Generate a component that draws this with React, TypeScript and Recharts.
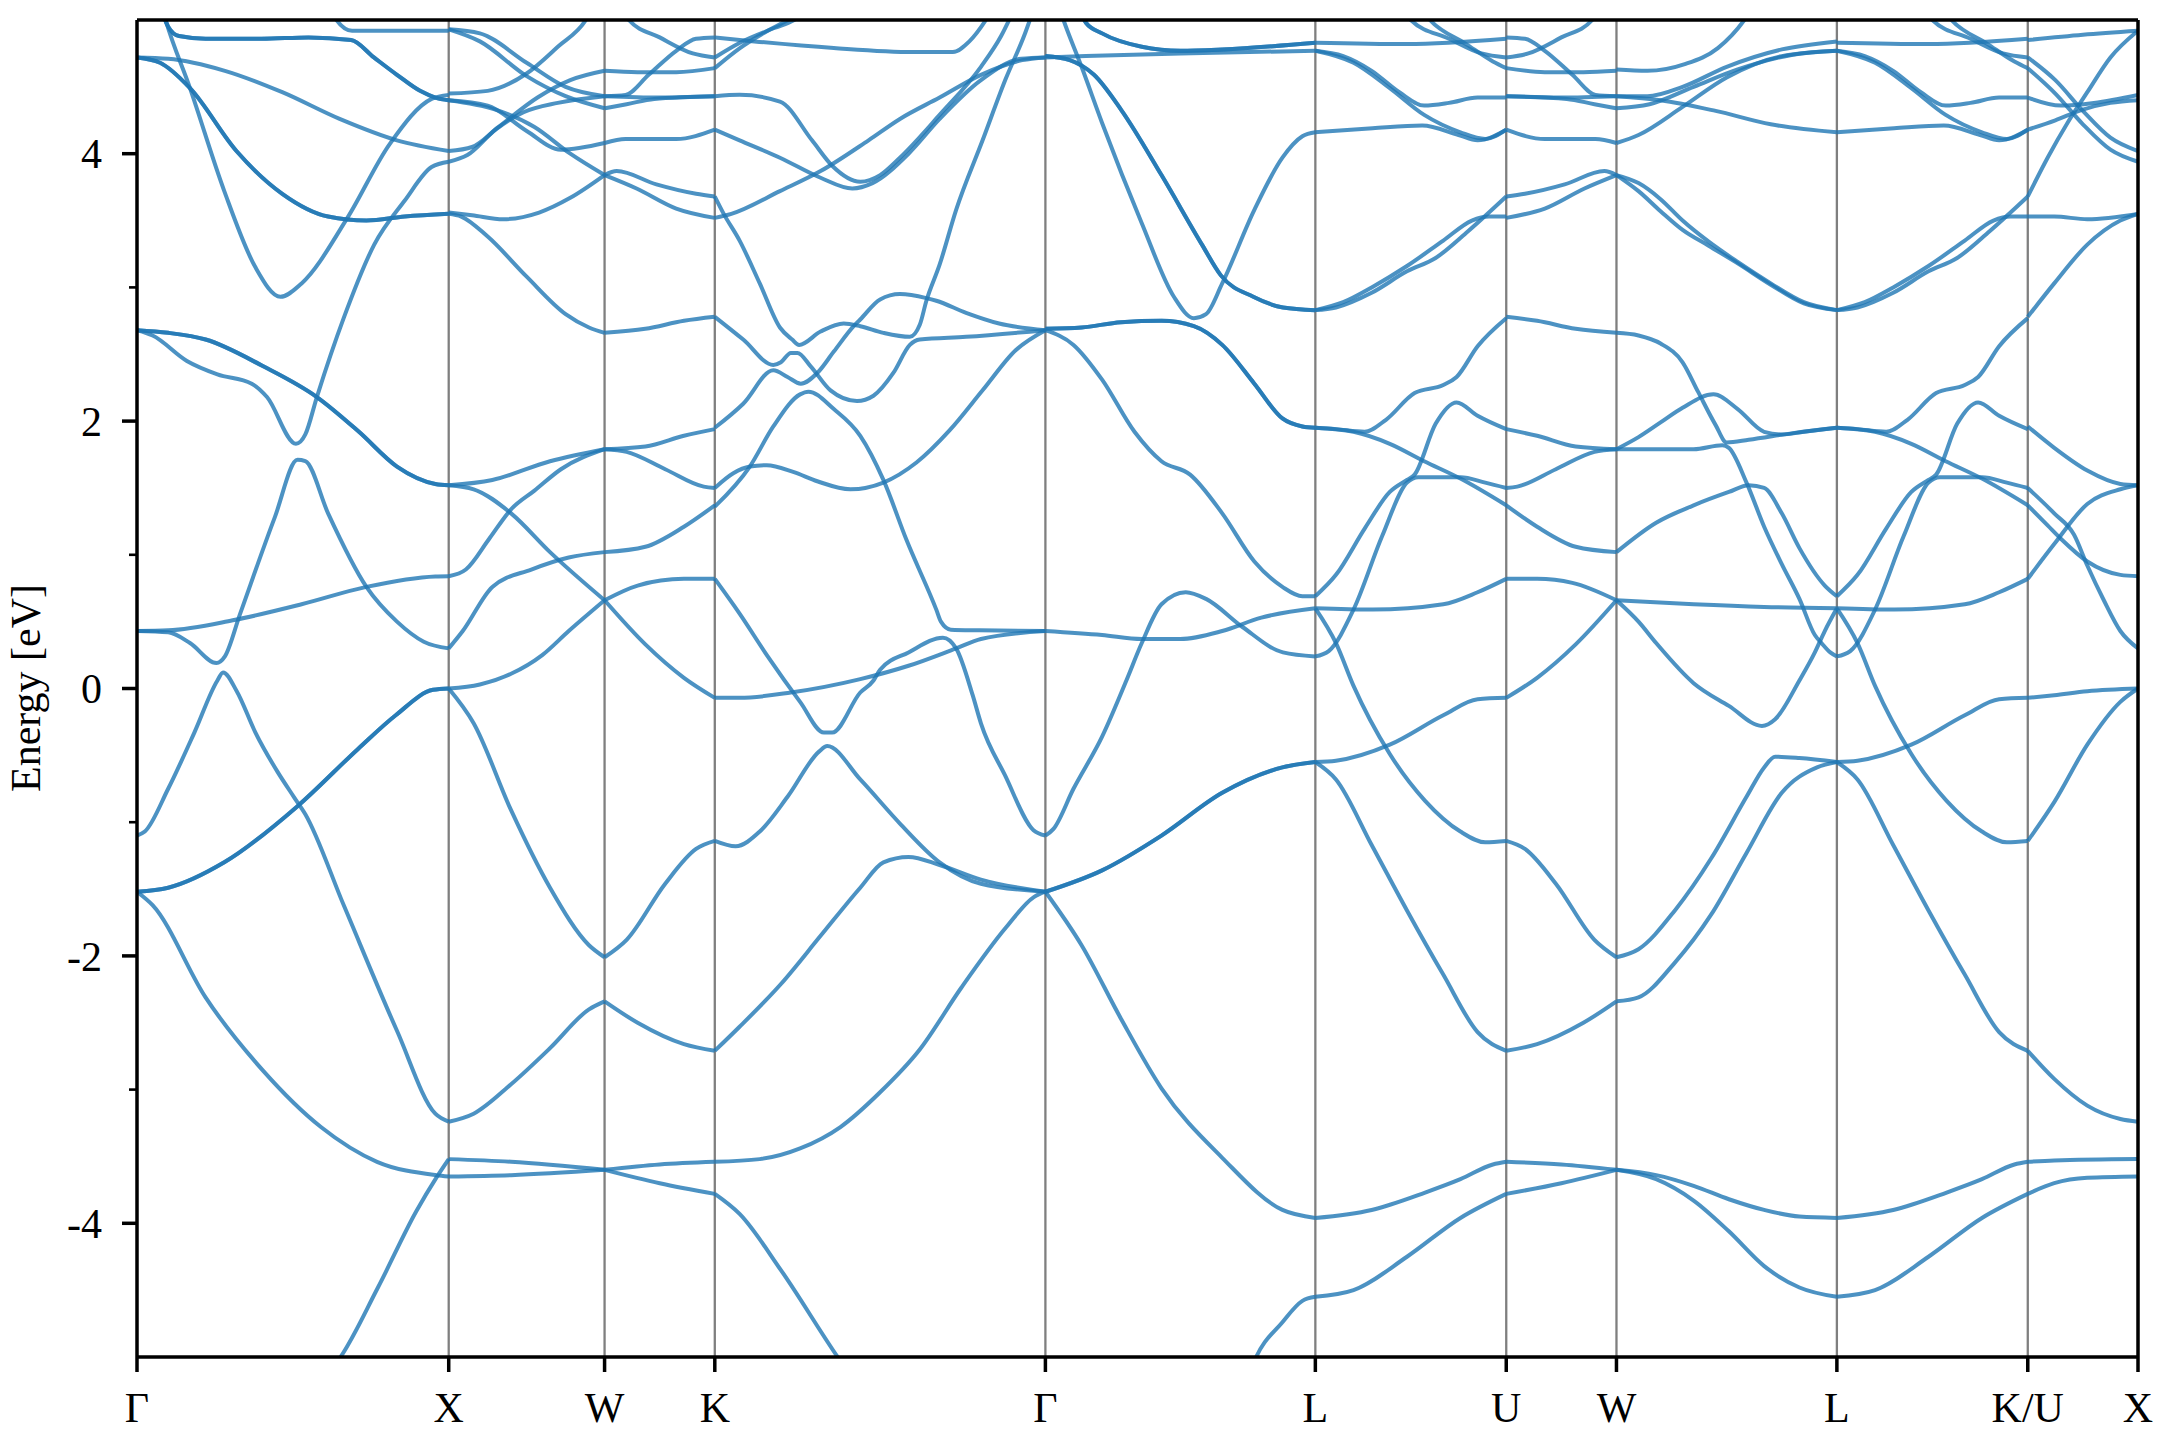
import React from "react"
import { LineChart, Line, XAxis, YAxis, ReferenceLine } from "recharts"

type Pt = [number, number]

// high-symmetry points along the k-path (units of 2π/a)
const kLabels = ["Γ", "X", "W", "K", "Γ", "L", "U", "W", "L", "K/U", "X"]
const kTicks = [0, 1, 1.5, 1.8536, 2.9142, 3.7802, 4.3926, 4.7462, 5.4533, 6.0657, 6.4193]
const energyTicks = [-4, -3, -2, -1, 0, 1, 2, 3, 4]

// each band piece: [fraction along the segment, energy in eV]
// pieces listed twice are degenerate (two bands on top of each other)

// Γ -> X
const gxLowPair: Pt[] = [[0, -1.52], [0.1, -1.49], [0.28, -1.3], [0.515, -0.88], [0.71, -0.45], [0.83, -0.2], [0.95, -0.01], [1, 0]]
const gxMidPair: Pt[] = [[0, 2.68], [0.1, 2.66], [0.22, 2.61], [0.405, 2.41], [0.577, 2.18], [0.712, 1.92], [0.834, 1.66], [0.957, 1.53], [1, 1.52]]
const gxTopPair: Pt[] = [[0, 4.72], [0.074, 4.68], [0.17, 4.49], [0.319, 4.02], [0.466, 3.7], [0.613, 3.53], [0.736, 3.5], [0.859, 3.53], [1, 3.55]]
const gxFlatPair: Pt[] = [[0.08, 5.06], [0.1, 4.95], [0.135, 4.88], [0.22, 4.86], [0.4, 4.86], [0.55, 4.87], [0.687, 4.85], [0.76, 4.72], [0.834, 4.59], [0.908, 4.47], [0.957, 4.42], [1, 4.4]]
const gammaX: Pt[][] = [
  gxLowPair, gxLowPair,
  [[0, -1.52], [0.05, -1.62], [0.22, -2.31], [0.405, -2.86], [0.59, -3.28], [0.77, -3.54], [0.96, -3.64], [1, -3.65]],
  [[0.62, -5.1], [0.644, -5.03], [0.773, -4.48], [0.896, -3.91], [0.96, -3.66], [1, -3.52]],
  [[0, -1.1], [0.025, -1.07], [0.1, -0.75], [0.184, -0.33], [0.258, 0.06], [0.276, 0.12], [0.32, -0.02], [0.38, -0.33], [0.45, -0.62], [0.503, -0.81], [0.54, -0.94], [0.663, -1.62], [0.834, -2.56], [0.957, -3.18], [1, -3.24]],
  [[0, 0.43], [0.1, 0.42], [0.17, 0.34], [0.255, 0.19], [0.282, 0.24], [0.331, 0.56], [0.442, 1.28], [0.515, 1.71], [0.54, 1.7], [0.613, 1.31], [0.736, 0.76], [0.834, 0.5], [0.92, 0.35], [1, 0.3]],
  [[0, 0.43], [0.1, 0.435], [0.307, 0.51], [0.528, 0.63], [0.736, 0.76], [0.957, 0.838], [1, 0.84]],
  gxMidPair, gxMidPair,
  [[0, 2.68], [0.05, 2.64], [0.16, 2.45], [0.258, 2.35], [0.368, 2.28], [0.417, 2.18], [0.51, 1.83], [0.54, 1.9], [0.577, 2.18], [0.663, 2.77], [0.761, 3.32], [0.859, 3.65], [0.945, 3.9], [1, 3.94]],
  [[0.08, 5.1], [0.092, 5.0], [0.17, 4.49], [0.28, 3.72], [0.38, 3.15], [0.46, 2.93], [0.528, 3.03], [0.675, 3.52], [0.81, 4.07], [0.945, 4.41], [1, 4.44]],
  [[0, 4.72], [0.1, 4.71], [0.282, 4.62], [0.466, 4.46], [0.65, 4.26], [0.834, 4.1], [1, 4.02]],
  gxTopPair, gxTopPair,
  gxFlatPair, gxFlatPair,
  [[0.63, 5.06], [0.64, 5.0], [0.69, 4.92], [0.8, 4.92], [1, 4.92]],
]

// X -> W
const xW: Pt[][] = [
  [[0, 4.93], [0.2, 4.9], [0.5, 4.68], [0.75, 4.5], [1, 4.43]],
  [[0, 4.93], [0.2, 4.84], [0.5, 4.58], [0.75, 4.43], [1, 4.34]],
  [[0, 4.45], [0.25, 4.47], [0.5, 4.6], [0.7, 4.8], [0.88, 5.0], [0.92, 5.08]],
  [[0, 4.4], [0.25, 4.36], [0.5, 4.17], [0.72, 4.03], [1, 4.08]],
  [[0, 4.4], [0.3, 4.33], [0.55, 4.2], [0.78, 4.0], [1, 3.84]],
  [[0, 4.02], [0.15, 4.05], [0.32, 4.2], [0.57, 4.42], [0.78, 4.55], [1, 4.62]],
  [[0, 3.94], [0.12, 3.99], [0.3, 4.18], [0.48, 4.31], [0.7, 4.38], [1, 4.43]],
  [[0, 3.56], [0.15, 3.54], [0.35, 3.51], [0.58, 3.56], [0.78, 3.67], [1, 3.84]],
  [[0, 3.55], [0.08, 3.53], [0.25, 3.38], [0.5, 3.08], [0.75, 2.8], [0.9, 2.7], [1, 2.66]],
  [[0, 1.52], [0.16, 1.49], [0.4, 1.31], [0.65, 1.02], [1, 0.66]],
  [[0, 1.52], [0.28, 1.56], [0.65, 1.7], [1, 1.79]],
  [[0, 0.84], [0.11, 0.89], [0.26, 1.12], [0.4, 1.34], [0.55, 1.48], [0.72, 1.64], [1, 1.79]],
  [[0, 0.3], [0.09, 0.43], [0.28, 0.76], [0.53, 0.89], [0.77, 0.98], [1, 1.02]],
  [[0, 0], [0.2, 0.03], [0.4, 0.11], [0.6, 0.25], [0.77, 0.43], [1, 0.66]],
  [[0, 0], [0.16, -0.26], [0.4, -0.91], [0.65, -1.49], [0.9, -1.92], [1, -2.01]],
  [[0, -3.24], [0.16, -3.18], [0.4, -2.96], [0.65, -2.69], [0.9, -2.4], [1, -2.34]],
  [[0, -3.52], [0.4, -3.54], [1, -3.6]],
  [[0, -3.65], [0.4, -3.64], [1, -3.6]],
]

// W -> K
const wK: Pt[][] = [
  [[0.15, 5.08], [0.22, 5.0], [0.5, 4.87], [0.8, 4.75], [1, 4.72]],
  [[0, 4.62], [0.3, 4.61], [0.65, 4.61], [1, 4.64]],
  [[0, 4.43], [0.19, 4.44], [0.4, 4.59], [0.65, 4.77], [0.83, 4.86], [1, 4.87]],
  [[0, 4.43], [0.5, 4.42], [1, 4.43]],
  [[0, 4.34], [0.2, 4.37], [0.45, 4.41], [1, 4.43]],
  [[0, 4.08], [0.19, 4.11], [0.65, 4.11], [1, 4.18]],
  [[0, 3.84], [0.11, 3.87], [0.47, 3.77], [0.83, 3.7], [1, 3.68]],
  [[0, 3.84], [0.29, 3.74], [0.65, 3.59], [1, 3.52]],
  [[0, 2.66], [0.37, 2.69], [0.72, 2.75], [1, 2.78]],
  [[0, 1.79], [0.37, 1.81], [0.72, 1.89], [1, 1.94]],
  [[0, 1.79], [0.2, 1.77], [0.55, 1.64], [0.9, 1.51], [1, 1.5]],
  [[0, 1.02], [0.37, 1.06], [0.72, 1.21], [1, 1.37]],
  [[0, 0.66], [0.3, 0.77], [0.72, 0.82], [1, 0.82]],
  [[0, 0.66], [0.37, 0.33], [0.72, 0.08], [1, -0.07]],
  [[0, -2.01], [0.2, -1.88], [0.55, -1.46], [0.83, -1.2], [1, -1.14]],
  [[0, -2.34], [0.3, -2.5], [0.72, -2.66], [1, -2.71]],
  [[0, -3.6], [0.5, -3.56], [1, -3.54]],
  [[0, -3.6], [0.5, -3.7], [1, -3.78]],
]

// K -> Γ
const kGamma: Pt[][] = [
  [[0, 4.87], [0.12, 4.84], [0.36, 4.79], [0.6, 4.76], [0.72, 4.76], [0.77, 4.84], [0.82, 5.0], [0.84, 5.08]],
  [[0, 4.72], [0.076, 4.83], [0.18, 4.94], [0.24, 5.0], [0.27, 5.05]],
  [[0, 4.64], [0.076, 4.79], [0.16, 4.92], [0.22, 5.0], [0.25, 5.05]],
  [[0, 4.43], [0.075, 4.44], [0.197, 4.39], [0.294, 4.1], [0.355, 3.91], [0.44, 3.79], [0.5, 3.84], [0.56, 3.97], [0.68, 4.29], [0.805, 4.65], [0.866, 4.88], [0.9, 5.05]],
  [[0, 4.18], [0.075, 4.1], [0.197, 3.97], [0.32, 3.82], [0.416, 3.74], [0.477, 3.78], [0.586, 4.0], [0.68, 4.26], [0.805, 4.55], [0.927, 4.71], [1, 4.72]],
  [[0, 3.52], [0.05, 3.55], [0.197, 3.72], [0.32, 3.87], [0.465, 4.1], [0.56, 4.26], [0.68, 4.42], [0.805, 4.59], [0.93, 4.7], [1, 4.72]],
  [[0, 3.68], [0.027, 3.55], [0.075, 3.35], [0.136, 3.03], [0.197, 2.7], [0.234, 2.61], [0.255, 2.57], [0.32, 2.67], [0.39, 2.73], [0.44, 2.71], [0.51, 2.66], [0.59, 2.63], [0.62, 2.72], [0.64, 2.9], [0.68, 3.17], [0.73, 3.58], [0.81, 4.1], [0.88, 4.56], [0.94, 4.91], [0.96, 5.05]],
  [[0, 2.78], [0.086, 2.61], [0.177, 2.42], [0.2, 2.44], [0.23, 2.51], [0.25, 2.51], [0.29, 2.41], [0.35, 2.23], [0.43, 2.15], [0.48, 2.19], [0.54, 2.36], [0.59, 2.57], [0.62, 2.61], [0.76, 2.63], [1, 2.68]],
  [[0, 1.95], [0.086, 2.13], [0.177, 2.38], [0.22, 2.33], [0.26, 2.28], [0.31, 2.36], [0.36, 2.52], [0.42, 2.71], [0.44, 2.76], [0.5, 2.91], [0.56, 2.95], [0.64, 2.92], [0.67, 2.9], [0.76, 2.81], [0.86, 2.73], [1, 2.68]],
  [[0, 1.5], [0.056, 1.61], [0.106, 1.66], [0.157, 1.67], [0.237, 1.62], [0.31, 1.55], [0.41, 1.49], [0.51, 1.54], [0.61, 1.69], [0.71, 1.93], [0.81, 2.23], [0.91, 2.53], [1, 2.68]],
  [[0, 1.36], [0.106, 1.66], [0.177, 1.96], [0.258, 2.2], [0.283, 2.22], [0.36, 2.09], [0.44, 1.89], [0.51, 1.56], [0.58, 1.11], [0.67, 0.59], [0.684, 0.5], [0.714, 0.44], [0.8, 0.435], [1, 0.43]],
  [[0, 0.82], [0.075, 0.56], [0.16, 0.24], [0.258, -0.1], [0.33, -0.33], [0.355, -0.33], [0.44, -0.03], [0.48, 0.06], [0.5, 0.14], [0.586, 0.27], [0.69, 0.38], [0.73, 0.3], [0.78, -0.05], [0.805, -0.26], [0.878, -0.65], [0.964, -1.06], [1, -1.1]],
  [[0, -0.07], [0.075, -0.07], [0.23, -0.03], [0.44, 0.07], [0.586, 0.17], [0.73, 0.3], [0.805, 0.37], [1, 0.43]],
  [[0, -1.14], [0.063, -1.18], [0.136, -1.07], [0.22, -0.81], [0.316, -0.47], [0.34, -0.43], [0.44, -0.68], [0.56, -1.01], [0.68, -1.3], [0.805, -1.46], [1, -1.52]],
  [[0, -2.71], [0.075, -2.53], [0.2, -2.21], [0.32, -1.85], [0.44, -1.49], [0.51, -1.3], [0.586, -1.26], [0.68, -1.32], [0.805, -1.43], [1, -1.52]],
  [[0, -3.54], [0.136, -3.52], [0.258, -3.44], [0.38, -3.28], [0.5, -3.02], [0.62, -2.7], [0.745, -2.24], [0.88, -1.79], [0.965, -1.56], [1, -1.52]],
  [[0, -3.78], [0.075, -3.93], [0.2, -4.35], [0.38, -5.03], [0.4, -5.1]],
]

// Γ -> L
const glDomePair: Pt[] = [[0, 4.73], [0.09, 4.7], [0.18, 4.59], [0.28, 4.33], [0.43, 3.84], [0.58, 3.32], [0.65, 3.09], [0.77, 2.93], [0.88, 2.85], [1, 2.83]]
const glTopPair: Pt[] = [[0.13, 5.06], [0.15, 4.98], [0.21, 4.9], [0.357, 4.8], [0.5, 4.77], [0.655, 4.78], [1, 4.83]]
const glMidPair: Pt[] = [[0, 2.69], [0.134, 2.7], [0.28, 2.74], [0.43, 2.75], [0.55, 2.71], [0.655, 2.57], [0.774, 2.28], [0.878, 2.02], [0.952, 1.96], [1, 1.95]]
const glLowPair: Pt[] = [[0, -1.52], [0.21, -1.36], [0.43, -1.1], [0.655, -0.78], [0.878, -0.59], [1, -0.55]]
const gammaL: Pt[][] = [
  glDomePair, glDomePair,
  [[0, 4.72], [0.15, 4.73], [0.5, 4.75], [1, 4.77]],
  glTopPair, glTopPair,
  [[0.05, 5.1], [0.067, 5.0], [0.134, 4.65], [0.21, 4.23], [0.357, 3.48], [0.476, 2.93], [0.55, 2.77], [0.595, 2.8], [0.655, 3.03], [0.774, 3.58], [0.878, 3.97], [0.952, 4.13], [1, 4.16]],
  glMidPair, glMidPair,
  [[0, 2.68], [0.104, 2.57], [0.21, 2.31], [0.33, 1.92], [0.43, 1.7], [0.536, 1.6], [0.655, 1.31], [0.774, 0.95], [0.878, 0.76], [0.952, 0.69], [1, 0.69]],
  [[0, 0.43], [0.21, 0.4], [0.357, 0.37], [0.5, 0.37], [0.655, 0.43], [0.8, 0.53], [1, 0.6]],
  [[0, -1.1], [0.03, -1.05], [0.104, -0.75], [0.21, -0.36], [0.3, 0.06], [0.357, 0.34], [0.43, 0.63], [0.52, 0.72], [0.595, 0.67], [0.73, 0.46], [0.88, 0.27], [1, 0.24]],
  glLowPair, glLowPair,
  [[0, -1.52], [0.134, -1.92], [0.28, -2.47], [0.43, -2.99], [0.655, -3.51], [0.878, -3.9], [1, -3.96]],
  [[0.76, -5.1], [0.774, -5.03], [0.878, -4.74], [0.952, -4.58], [1, -4.55]],
]

// L -> U (L -> K/U looks the same)
const lU: Pt[][] = [
  [[0, 4.83], [0.48, 4.82], [1, 4.86]],
  [[0.47, 5.05], [0.5, 5.0], [0.7, 4.86], [0.87, 4.75], [1, 4.72]],
  [[0.57, 5.05], [0.6, 5.0], [0.79, 4.82], [0.93, 4.69], [1, 4.64]],
  [[0, 4.77], [0.146, 4.73], [0.295, 4.62], [0.44, 4.46], [0.57, 4.36], [0.7, 4.38], [0.85, 4.42], [1, 4.42]],
  [[0, 4.77], [0.2, 4.68], [0.39, 4.49], [0.57, 4.29], [0.76, 4.16], [0.89, 4.11], [1, 4.18]],
  [[0, 4.16], [0.3, 4.19], [0.56, 4.21], [0.75, 4.14], [0.85, 4.1], [1, 4.18]],
  [[0, 2.83], [0.108, 2.85], [0.295, 2.96], [0.48, 3.12], [0.63, 3.22], [0.8, 3.42], [1, 3.68]],
  [[0, 2.83], [0.146, 2.89], [0.295, 3.0], [0.48, 3.16], [0.67, 3.35], [0.82, 3.5], [0.91, 3.53], [1, 3.53]],
  [[0, 1.95], [0.108, 1.94], [0.258, 1.92], [0.37, 2.01], [0.52, 2.21], [0.67, 2.27], [0.74, 2.33], [0.85, 2.56], [1, 2.77]],
  [[0, 1.95], [0.2, 1.92], [0.39, 1.83], [0.57, 1.7], [0.76, 1.57], [1, 1.37]],
  [[0, 0.69], [0.108, 0.85], [0.26, 1.2], [0.39, 1.47], [0.48, 1.56], [0.52, 1.6], [0.63, 1.98], [0.74, 2.14], [0.85, 2.04], [1, 1.94]],
  [[0, 0.24], [0.07, 0.28], [0.2, 0.59], [0.35, 1.14], [0.48, 1.54], [0.54, 1.58], [0.76, 1.58], [0.89, 1.54], [1, 1.5]],
  [[0, 0.6], [0.3, 0.59], [0.67, 0.63], [0.85, 0.72], [1, 0.82]],
  [[0, 0.6], [0.108, 0.34], [0.2, 0.02], [0.39, -0.49], [0.575, -0.84], [0.76, -1.07], [0.89, -1.15], [1, -1.14]],
  [[0, -0.55], [0.108, -0.54], [0.39, -0.42], [0.67, -0.2], [0.85, -0.08], [1, -0.07]],
  [[0, -0.55], [0.108, -0.68], [0.295, -1.17], [0.48, -1.66], [0.67, -2.14], [0.85, -2.57], [1, -2.71]],
  [[0, -3.96], [0.295, -3.9], [0.575, -3.77], [0.76, -3.67], [0.93, -3.56], [1, -3.54]],
  [[0, -4.55], [0.2, -4.5], [0.48, -4.25], [0.76, -3.96], [1, -3.78]],
]

// U -> W
const uW: Pt[][] = [
  [[0, 4.72], [0.2, 4.75], [0.5, 4.87], [0.78, 5.0], [0.85, 5.08]],
  [[0, 4.64], [0.35, 4.61], [0.7, 4.61], [1, 4.62]],
  [[0, 4.87], [0.17, 4.86], [0.35, 4.77], [0.6, 4.59], [0.81, 4.44], [1, 4.43]],
  [[0, 4.43], [0.5, 4.42], [1, 4.43]],
  [[0, 4.43], [0.55, 4.41], [0.8, 4.37], [1, 4.34]],
  [[0, 4.18], [0.35, 4.11], [0.81, 4.11], [1, 4.08]],
  [[0, 3.68], [0.17, 3.7], [0.53, 3.77], [0.89, 3.87], [1, 3.84]],
  [[0, 3.52], [0.35, 3.59], [0.71, 3.74], [1, 3.84]],
  [[0, 2.78], [0.28, 2.75], [0.63, 2.69], [1, 2.66]],
  [[0, 1.94], [0.28, 1.89], [0.63, 1.81], [1, 1.79]],
  [[0, 1.5], [0.1, 1.51], [0.45, 1.64], [0.8, 1.77], [1, 1.79]],
  [[0, 1.37], [0.28, 1.21], [0.63, 1.06], [1, 1.02]],
  [[0, 0.82], [0.28, 0.82], [0.6, 0.79], [1, 0.66]],
  [[0, -0.07], [0.28, 0.08], [0.63, 0.33], [1, 0.66]],
  [[0, -1.14], [0.17, -1.2], [0.45, -1.46], [0.8, -1.88], [1, -2.01]],
  [[0, -2.71], [0.28, -2.66], [0.7, -2.5], [1, -2.34]],
  [[0, -3.54], [0.5, -3.56], [1, -3.6]],
  [[0, -3.78], [0.5, -3.7], [1, -3.6]],
]

// W -> L
const wL: Pt[][] = [
  [[0, 4.63], [0.14, 4.62], [0.31, 4.67], [0.46, 4.79], [0.58, 5.0], [0.62, 5.1]],
  [[0, 4.43], [0.14, 4.43], [0.3, 4.5], [0.5, 4.65], [0.75, 4.78], [1, 4.84]],
  [[0, 4.34], [0.15, 4.37], [0.35, 4.5], [0.55, 4.63], [0.8, 4.74], [1, 4.77]],
  [[0, 4.08], [0.1, 4.14], [0.3, 4.35], [0.5, 4.57], [0.75, 4.73], [1, 4.77]],
  [[0, 4.43], [0.2, 4.4], [0.45, 4.32], [0.7, 4.22], [1, 4.16]],
  [[0, 3.84], [0.1, 3.72], [0.2, 3.57], [0.3, 3.43], [0.42, 3.31], [0.55, 3.18], [0.7, 3.02], [0.85, 2.88], [1, 2.83]],
  [[0, 3.84], [0.1, 3.78], [0.2, 3.66], [0.3, 3.5], [0.42, 3.34], [0.55, 3.19], [0.7, 3.03], [0.85, 2.89], [1, 2.83]],
  [[0, 2.66], [0.1, 2.64], [0.2, 2.58], [0.3, 2.44], [0.37, 2.22], [0.45, 1.97], [0.5, 1.84], [0.6, 1.86], [0.8, 1.91], [1, 1.95]],
  [[0, 1.79], [0.1, 1.88], [0.2, 1.99], [0.3, 2.1], [0.44, 2.2], [0.55, 2.09], [0.67, 1.92], [0.75, 1.9], [0.85, 1.92], [1, 1.95]],
  [[0, 1.79], [0.2, 1.79], [0.35, 1.79], [0.48, 1.82], [0.51, 1.8], [0.59, 1.54], [0.67, 1.21], [0.75, 0.93], [0.83, 0.67], [0.9, 0.4], [0.93, 0.34], [0.97, 0.27], [1, 0.24]],
  [[0, 1.02], [0.18, 1.24], [0.35, 1.37], [0.51, 1.47], [0.6, 1.52], [0.67, 1.5], [0.75, 1.31], [0.83, 1.05], [0.945, 0.77], [1, 0.69]],
  [[0, 0.66], [0.35, 0.63], [0.67, 0.61], [1, 0.6]],
  [[0, 0.66], [0.1, 0.5], [0.18, 0.34], [0.35, 0.04], [0.51, -0.13], [0.66, -0.28], [0.72, -0.23], [0.83, 0.06], [0.9, 0.27], [0.945, 0.43], [1, 0.6]],
  [[0, -2.01], [0.1, -1.95], [0.265, -1.66], [0.43, -1.27], [0.59, -0.81], [0.67, -0.59], [0.72, -0.51], [0.83, -0.52], [1, -0.55]],
  [[0, -2.34], [0.1, -2.31], [0.265, -2.05], [0.43, -1.69], [0.59, -1.23], [0.75, -0.78], [0.91, -0.59], [1, -0.55]],
  [[0, -3.6], [0.18, -3.67], [0.35, -3.83], [0.51, -4.06], [0.67, -4.32], [0.83, -4.48], [1, -4.55]],
  [[0, -3.6], [0.18, -3.64], [0.35, -3.72], [0.51, -3.82], [0.67, -3.9], [0.83, -3.95], [1, -3.96]],
]

// K/U -> X
const uX: Pt[][] = [
  [[0, 4.85], [0.5, 4.89], [1, 4.92]],
  [[0, 4.72], [0.25, 4.55], [0.5, 4.32], [0.75, 4.12], [1, 4.02]],
  [[0, 4.64], [0.25, 4.45], [0.5, 4.22], [0.75, 4.03], [1, 3.94]],
  [[0, 4.42], [0.3, 4.36], [0.6, 4.38], [1, 4.44]],
  [[0, 4.18], [0.25, 4.25], [0.5, 4.33], [0.75, 4.38], [1, 4.4]],
  [[0, 3.68], [0.18, 3.97], [0.36, 4.23], [0.54, 4.46], [0.75, 4.72], [1, 4.92]],
  [[0, 3.53], [0.24, 3.53], [0.54, 3.51], [1, 3.55]],
  [[0, 2.78], [0.24, 3.03], [0.54, 3.32], [0.84, 3.5], [1, 3.55]],
  [[0, 1.96], [0.24, 1.8], [0.54, 1.63], [0.84, 1.53], [1, 1.52]],
  [[0, 1.5], [0.24, 1.31], [0.42, 1.15], [0.54, 0.92], [0.69, 0.66], [0.84, 0.43], [1, 0.3]],
  [[0, 1.37], [0.18, 1.22], [0.3, 1.12], [0.54, 0.95], [0.84, 0.85], [1, 0.84]],
  [[0, 0.82], [0.24, 1.08], [0.54, 1.38], [0.84, 1.49], [1, 1.52]],
  [[0, -0.07], [0.24, -0.05], [0.54, -0.02], [1, 0]],
  [[0, -1.14], [0.24, -0.85], [0.54, -0.42], [0.84, -0.1], [1, 0]],
  [[0, -2.71], [0.24, -2.92], [0.54, -3.12], [0.84, -3.22], [1, -3.24]],
  [[0, -3.54], [0.24, -3.53], [1, -3.52]],
  [[0, -3.78], [0.24, -3.7], [0.54, -3.66], [1, -3.65]],
]

const segments = [gammaX, xW, wK, kGamma, gammaL, lU, uW, wL, lU, uX]

const FONT = "'Liberation Serif', 'DejaVu Serif', serif"
const kMax = kTicks[kTicks.length - 1]

function EnergyTick(props: any) {
  const { x, y, payload } = props
  const v = payload.value
  const major = v % 2 === 0
  const axisX = x + 35 // tickMargin + tickSize
  return (
    <g>
      <line x1={axisX - (major ? 15 : 8)} x2={axisX} y1={y} y2={y} stroke="#000" strokeWidth={major ? 3.5 : 2.6} />
      {major && (
        <text x={x} y={y} dy="0.35em" textAnchor="end" fontSize={42} fontFamily={FONT} fill="#000">
          {v}
        </text>
      )}
    </g>
  )
}

export default function App() {
  const series = segments.flatMap((seg, i) =>
    seg.map((curve) =>
      curve.map(([t, e]) => ({ k: kTicks[i] + t * (kTicks[i + 1] - kTicks[i]), e }))
    )
  )

  return (
    <div style={{ position: "relative", width: 2160, height: 1440, background: "#fff", fontFamily: FONT }}>
      <style>{`body{margin:0}`}</style>
      <LineChart width={2160} height={1440} margin={{ top: 20, right: 22, bottom: 13, left: 0 }}>
        <XAxis
          type="number"
          dataKey="k"
          domain={[0, kMax]}
          ticks={kTicks}
          interval={0}
          allowDataOverflow
          height={70}
          tickSize={15}
          tickMargin={20}
          tickFormatter={(_v: number, i: number) => kLabels[i]}
          axisLine={{ stroke: "#000", strokeWidth: 3.5 }}
          tickLine={{ stroke: "#000", strokeWidth: 3.5 }}
          tick={{ fill: "#000", fontSize: 42, fontFamily: FONT }}
        />
        <YAxis
          type="number"
          domain={[-5, 5]}
          ticks={energyTicks}
          interval={0}
          allowDataOverflow
          width={137}
          tickSize={15}
          tickMargin={20}
          tickLine={false}
          axisLine={{ stroke: "#000", strokeWidth: 3.5 }}
          tick={<EnergyTick />}
        />
        {kTicks.slice(1, -1).map((k) => (
          <ReferenceLine key={k} x={k} stroke="#000" strokeOpacity={0.5} strokeWidth={2.3} />
        ))}
        {series.map((d, i) => (
          <Line
            key={i}
            data={d}
            dataKey="e"
            type="monotone"
            stroke="#1f77b4"
            strokeOpacity={0.8}
            strokeWidth={4}
            dot={false}
            activeDot={false}
            isAnimationActive={false}
          />
        ))}
        <ReferenceLine y={5} stroke="#000" strokeWidth={3.5} />
        <ReferenceLine x={kMax} stroke="#000" strokeWidth={3.5} />
      </LineChart>
      <div
        style={{
          position: "absolute",
          left: 26,
          top: 688,
          transform: "translate(-50%, -50%) rotate(-90deg)",
          fontSize: 42,
          whiteSpace: "nowrap",
          color: "#000",
        }}
      >
        Energy [eV]
      </div>
    </div>
  )
}
